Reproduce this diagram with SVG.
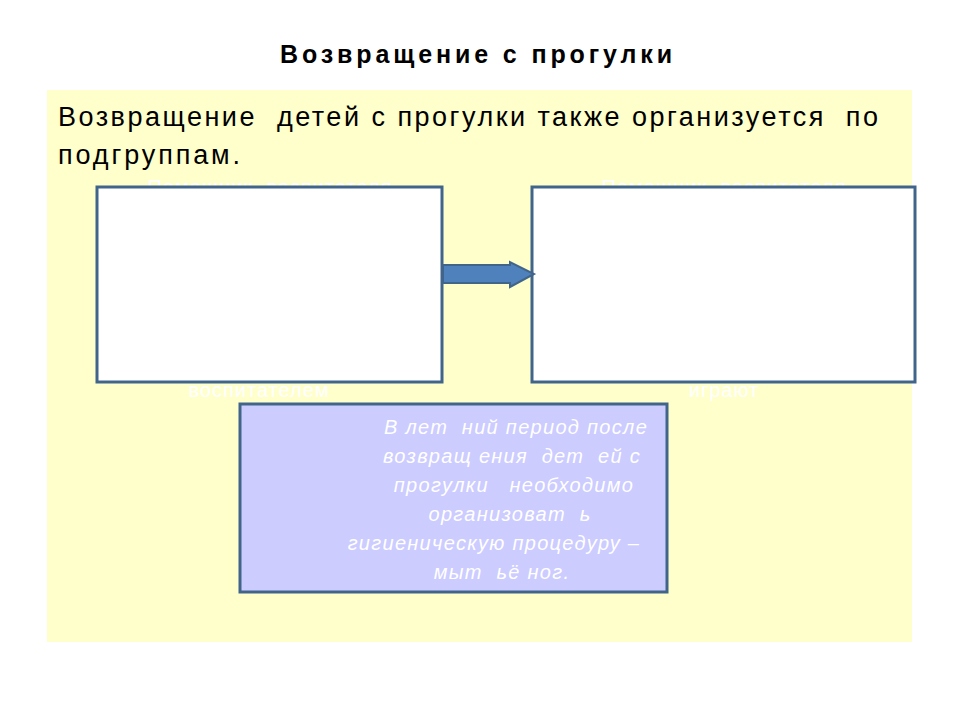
<svg xmlns="http://www.w3.org/2000/svg" width="960" height="720" viewBox="0 0 960 720">
<style>
text{white-space:pre}
.w{fill:#fff;font-family:"Liberation Sans",Arial,sans-serif;font-size:20px;text-anchor:middle;letter-spacing:1px}
.box{fill:#fff;stroke:#41648a;stroke-width:3}
.it{fill:#fff;font-family:"Liberation Sans",Arial,sans-serif;font-size:20px;font-style:italic;text-anchor:middle;letter-spacing:1.3px}
</style>
<rect width="960" height="720" fill="#fff"/>
<text x="280" y="63" textLength="392" font-family="Liberation Sans,Arial,sans-serif" font-size="25" font-weight="bold">Возвращение с прогулки</text>
<rect x="47" y="90" width="865" height="552" fill="#ffffcc"/>
<text font-family="Liberation Sans,Arial,sans-serif" font-size="27" fill="#000"><tspan x="58" y="126" textLength="820">Возвращение  детей с прогулки также организуется  по</tspan><tspan x="58" y="164" textLength="182">подгруппам.</tspan></text>
<text class="w" x="270" y="194">Помощник  воспитателя</text>
<text class="w" x="724" y="194">Помощник  воспитателя</text>
<text class="w" x="259" y="397">воспитателем</text>
<text class="w" x="724" y="397">играют</text>
<g id="left"><rect class="box" x="97" y="187" width="345" height="195"/></g>
<g id="right"><rect class="box" x="532" y="187" width="383" height="195"/></g>
<g id="connectors"><polygon points="443,265 510,265 510,262 534,274 510,287 510,283 443,283" fill="#4f81bd" stroke="#41648a" stroke-width="2"/></g>
<g id="note"><rect x="240" y="404" width="427" height="188" fill="#ccccff" stroke="#41648a" stroke-width="3"/>
<text class="it"><tspan x="516" y="434">В лет  ний период после</tspan><tspan x="512" y="463">возвращ ения  дет  ей с</tspan><tspan x="514" y="492">прогулки   необходимо</tspan><tspan x="510" y="521">организоват  ь</tspan><tspan x="494" y="550">гигиеническую процедуру –</tspan><tspan x="502" y="579">мыт  ьё ног.</tspan></text></g>
</svg>
